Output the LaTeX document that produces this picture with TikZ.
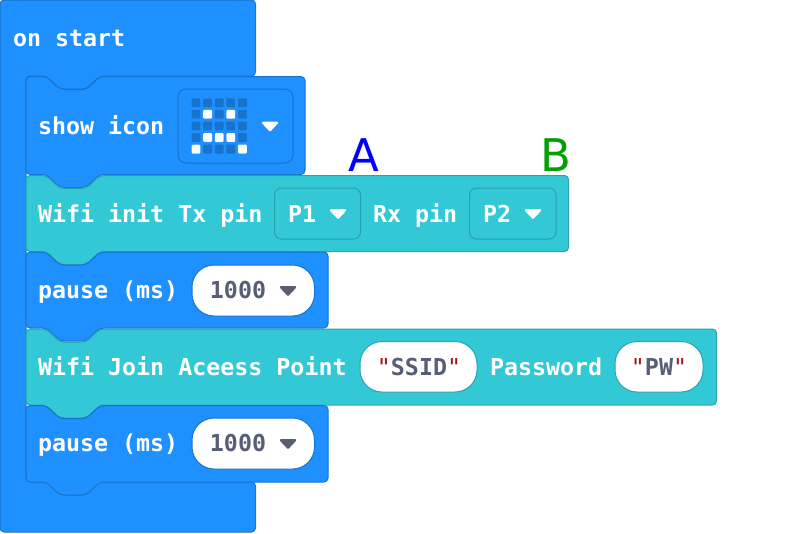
\documentclass[tikz,border=0pt]{standalone}
\usepackage{fontspec}
\usepackage{xcolor}
\setmainfont{DejaVu Sans}
\newfontfamily\blockfont{DejaVu Sans Mono}
\definecolor{blockblue}{HTML}{1E90FF}
\definecolor{blockblueline}{HTML}{1873CC}
\definecolor{blockteal}{HTML}{32C8D6}
\definecolor{blocktealline}{HTML}{2AA3AF}
\definecolor{valuegrey}{HTML}{575E75}
\definecolor{quotered}{HTML}{A31515}
\definecolor{labelgreen}{HTML}{00A000}
\newcommand{\stackblock}[4]{
    \draw[#4, rounded corners=4] (26,#1+8) -- (26,#1) -- (46,#1) -- (60,#1+13) -- (86,#1+13) -- (100,#1)
        -- (#2,#1) -- (#2,#3) -- (100,#3) -- (86,#3+13) -- (60,#3+13) -- (46,#3) -- (26,#3) -- cycle;
}
\newcommand{\dropmark}[3]{
    \filldraw[#3, line width=2.4pt, line join=round] (#1-7,#2-3.8) -- (#1+7,#2-3.8) -- (#1,#2+3.6) -- cycle;
}
\newcommand{\redquote}{\textcolor{quotered}{\mdseries"}}
\tikzset{
    blue block/.style={fill=blockblue, draw=blockblueline},
    teal block/.style={fill=blockteal, draw=blocktealline},
    block text/.style={font=\blockfont\bfseries\fontsize{23.3}{23.3}\selectfont, text=white, anchor=base west, inner sep=0pt},
    value text/.style={font=\blockfont\bfseries\fontsize{23.3}{23.3}\selectfont, text=valuegrey, anchor=base, inner sep=0pt},
    pin field/.style={draw=blocktealline, rounded corners=7},
    value field/.style={fill=white, rounded corners=22},
    pin letter/.style={font=\fontsize{45}{45}\selectfont, anchor=base, inner sep=0pt}
}
\begin{document}
\begin{tikzpicture}[x=1pt, y=-1pt, line width=1pt]
    \useasboundingbox (0,0) rectangle (799,533);
    \draw[blue block, rounded corners=4] (0,8) -- (0,0) -- (255.5,0) -- (255.5,76) -- (100,76) -- (86,89) -- (60,89) -- (46,76)
        -- (26,76) -- (26,482) -- (255.5,482) -- (255.5,532) -- (0,532) -- cycle;
    \stackblock{76.5}{305}{174.5}{blue block}
    \stackblock{175.5}{568.5}{251.5}{teal block}
    \stackblock{252}{328}{328}{blue block}
    \stackblock{329}{716.5}{405}{teal block}
    \stackblock{405.5}{328}{482}{blue block}

    \node[block text] (onstart) at (12.5,46) {on start};
    \node[block text] (showicon) at (37.5,134) {show icon};
    \draw[draw=blockblueline, rounded corners=8] (178,89) rectangle (293,163);
    \foreach \row/\ypix in {1/102.7,2/114.3,3/125.9,4/137.5,5/149.1}
        \foreach \col/\xpix in {1/196,2/207.6,3/219.2,4/230.8,5/242.4}
            \fill[blockblueline, rounded corners=1] (\xpix-4.4,\ypix-4.4) rectangle (\xpix+4.4,\ypix+4.4);
    \foreach \xpix/\ypix in {207.6/114.3,230.8/114.3,207.6/137.5,219.2/137.5,230.8/137.5,196/149.1,242.4/149.1}
        \fill[white, rounded corners=1] (\xpix-4.4,\ypix-4.4) rectangle (\xpix+4.4,\ypix+4.4);
    \dropmark{270}{126.5}{white}

    \node[pin letter, text=blue] (pina) at (363.5,171) {A};
    \node[pin letter, text=labelgreen] (pinb) at (556,171) {B};

    \node[block text] (wifiinit) at (37.5,222) {Wifi init Tx pin};
    \draw[pin field] (274.5,188) rectangle (360.5,239);
    \node[block text] (txpin) at (287.5,222) {P1};
    \dropmark{338}{214}{white}
    \node[block text] (rxlabel) at (372.5,222) {Rx pin};
    \draw[pin field] (469.5,188) rectangle (556,239);
    \node[block text] (rxpin) at (482.5,222) {P2};
    \dropmark{533}{214}{white}

    \node[block text] (pauseone) at (37.5,298) {pause (ms)};
    \draw[value field, draw=blockblueline] (192,265) rectangle (314.5,316);
    \node[value text] (msone) at (238,298) {1000};
    \dropmark{288}{291}{valuegrey}

    \node[block text] (wifijoin) at (37.5,375) {Wifi Join Aceess Point};
    \draw[value field, draw=blocktealline] (360,341.5) rectangle (477,392);
    \node[value text] (ssid) at (419,375) {\redquote SSID\redquote};
    \node[block text] (password) at (489.5,375) {Password};
    \draw[value field, draw=blocktealline] (615,341.5) rectangle (703,392);
    \node[value text] (pw) at (659,375) {\redquote PW\redquote};

    \node[block text] (pausetwo) at (37.5,451.5) {pause (ms)};
    \draw[value field, draw=blockblueline] (192,418) rectangle (314.5,469);
    \node[value text] (mstwo) at (238,451.5) {1000};
    \dropmark{288}{444}{valuegrey}
\end{tikzpicture}
\end{document}
